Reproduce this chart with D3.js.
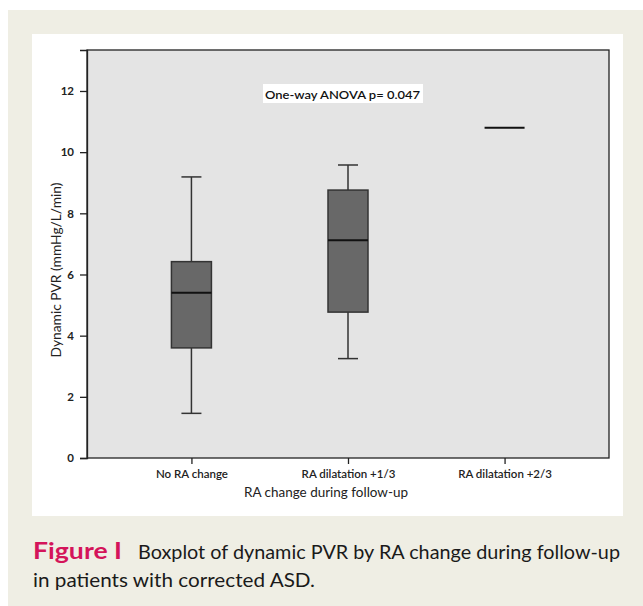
<!DOCTYPE html>
<meta charset="utf-8">
<script src="https://d3js.org/d3.v7.min.js"></script>
<style>
  body { margin: 0; background: #fff; }
  text { font-family: Lato, "Open Sans", sans-serif; }
</style>
<svg id="chart" width="643" height="606"></svg>
<script>
// data
const groups = ["No RA change", "RA dilatation +1/3", "RA dilatation +2/3"];
const whiskerLow  = [1.46, 3.25, 10.8];
const q1          = [3.60, 4.77, 10.8];
const median      = [5.40, 7.12, 10.8];
const q3          = [6.42, 8.76, 10.8];
const whiskerHigh = [9.19, 9.58, 10.8];
const yTicks = [0, 2, 4, 6, 8, 10, 12];

const svg = d3.select("#chart");

// figure frame
svg.append("rect").attr("x", 8).attr("y", 10).attr("width", 635).attr("height", 596).attr("fill", "#efeee4");
svg.append("rect").attr("x", 32).attr("y", 34).attr("width", 591).attr("height", 482).attr("fill", "#fff");

const plot = { left: 87, right: 609, top: 50, bottom: 458 };

const x = d3.scalePoint().domain(groups).range([plot.left, plot.right]).padding(0.667);
const y = d3.scaleLinear().domain([0, 13.34]).range([plot.bottom, plot.top]);

svg.append("rect")
  .attr("x", plot.left).attr("y", plot.top)
  .attr("width", plot.right - plot.left).attr("height", plot.bottom - plot.top)
  .attr("fill", "#e4e4e4").attr("stroke", "#222").attr("stroke-width", 1.3);

// axes
const yAxis = svg.append("g")
  .attr("transform", `translate(${plot.left},0)`)
  .call(d3.axisLeft(y).tickValues(yTicks).tickSize(7).tickPadding(6));
yAxis.select(".domain").attr("stroke", "#222").attr("stroke-width", 1.3);
yAxis.selectAll(".tick line").attr("stroke", "#222").attr("stroke-width", 1.3);
yAxis.selectAll("text").attr("font-size", 11.5).attr("font-weight", 700).attr("fill", "#222")
  .style("font-family", "Lato, sans-serif");

const xAxis = svg.append("g")
  .attr("transform", `translate(0,${plot.bottom})`)
  .call(d3.axisBottom(x).tickSize(6).tickPadding(6));
xAxis.select(".domain").remove();
xAxis.selectAll(".tick line").attr("stroke", "#222").attr("stroke-width", 1.3);
xAxis.selectAll("text").attr("font-size", 11.5).attr("font-weight", 600).attr("fill", "#222")
  .style("font-family", "Lato, sans-serif");

// boxes
const boxW = 40, capW = 20;
const g = svg.append("g");
groups.forEach((name, i) => {
  const cx = x(name);
  if (q3[i] > q1[i]) {
    g.append("line").attr("x1", cx).attr("x2", cx).attr("y1", y(whiskerHigh[i])).attr("y2", y(q3[i]))
      .attr("stroke", "#333").attr("stroke-width", 1.5);
    g.append("line").attr("x1", cx).attr("x2", cx).attr("y1", y(q1[i])).attr("y2", y(whiskerLow[i]))
      .attr("stroke", "#333").attr("stroke-width", 1.5);
    g.append("line").attr("x1", cx - capW / 2).attr("x2", cx + capW / 2)
      .attr("y1", y(whiskerHigh[i])).attr("y2", y(whiskerHigh[i])).attr("stroke", "#333").attr("stroke-width", 1.5);
    g.append("line").attr("x1", cx - capW / 2).attr("x2", cx + capW / 2)
      .attr("y1", y(whiskerLow[i])).attr("y2", y(whiskerLow[i])).attr("stroke", "#333").attr("stroke-width", 1.5);
    g.append("rect").attr("x", cx - boxW / 2).attr("y", y(q3[i]))
      .attr("width", boxW).attr("height", y(q1[i]) - y(q3[i]))
      .attr("fill", "#686868").attr("stroke", "#333").attr("stroke-width", 1.5);
  }
  g.append("line").attr("x1", cx - boxW / 2).attr("x2", cx + boxW / 2)
    .attr("y1", y(median[i])).attr("y2", y(median[i]))
    .attr("stroke", "#111").attr("stroke-width", 2);
});

// annotation
const note = svg.append("g");
note.append("rect").attr("x", 263).attr("y", 84).attr("width", 160).attr("height", 19).attr("fill", "#fff");
note.append("text").attr("x", 265).attr("y", 98.5).attr("font-size", 12).attr("font-weight", 600)
  .attr("fill", "#111").attr("textLength", 155).attr("lengthAdjust", "spacingAndGlyphs")
  .text("One-way ANOVA p= 0.047");

// axis titles
svg.append("text").attr("x", 326).attr("y", 497).attr("text-anchor", "middle")
  .attr("font-size", 13).attr("fill", "#222").attr("textLength", 164).attr("lengthAdjust", "spacingAndGlyphs")
  .text("RA change during follow-up");
svg.append("text").attr("transform", "translate(61,270) rotate(-90)").attr("text-anchor", "middle")
  .attr("font-size", 12.5).attr("fill", "#222").attr("textLength", 175).attr("lengthAdjust", "spacingAndGlyphs")
  .text("Dynamic PVR (mmHg/L/min)");

// caption
svg.append("text").attr("x", 33).attr("y", 559).attr("font-size", 22).attr("font-weight", 700)
  .attr("fill", "#d4145a").attr("textLength", 89).attr("lengthAdjust", "spacingAndGlyphs").text("Figure I");
svg.append("text").attr("x", 138).attr("y", 559).attr("font-size", 20).attr("fill", "#1a1a1a")
  .attr("textLength", 482).attr("lengthAdjust", "spacingAndGlyphs")
  .text("Boxplot of dynamic PVR by RA change during follow-up");
svg.append("text").attr("x", 33).attr("y", 587).attr("font-size", 20).attr("fill", "#1a1a1a")
  .attr("textLength", 282).attr("lengthAdjust", "spacingAndGlyphs")
  .text("in patients with corrected ASD.");
</script>
